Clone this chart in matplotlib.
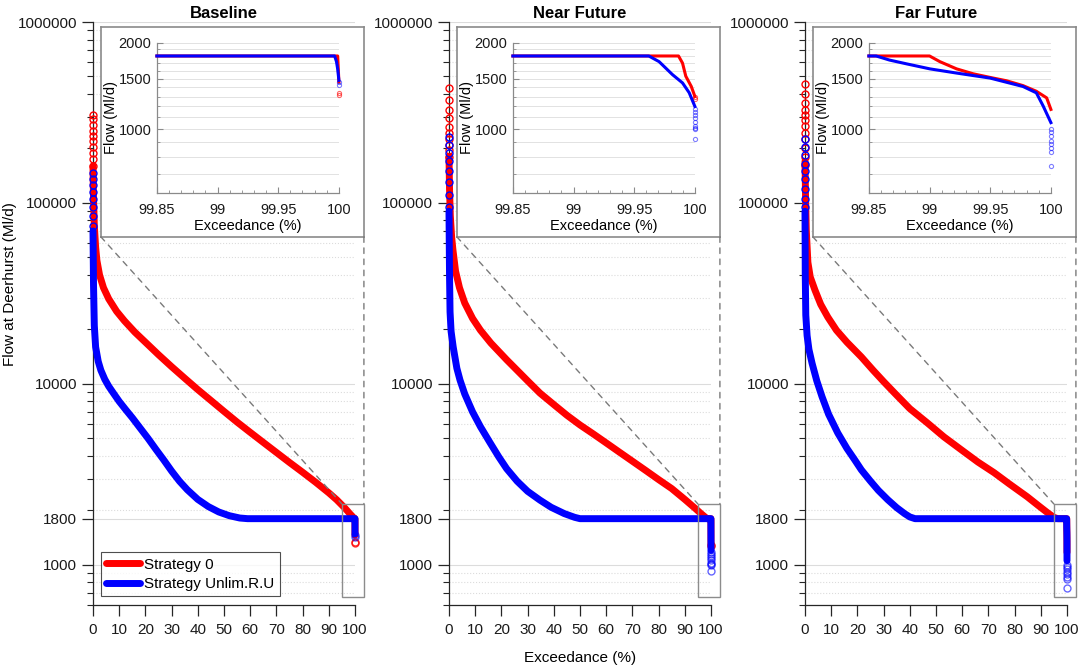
import matplotlib
matplotlib.use('Agg')
import matplotlib.pyplot as plt
import numpy as np
from matplotlib.ticker import LogLocator, NullFormatter, MultipleLocator, FixedLocator
from matplotlib.patches import Rectangle, ConnectionPatch

plt.rcParams['font.family'] = ['Liberation Sans', 'DejaVu Sans']

titles = ['Baseline', 'Near Future', 'Far Future']
labels = ['Strategy 0', 'Strategy Unlim.R.U']

# ---- Baseline ----
base_red_exc = [0, 0.2, 0.5, 1.0, 1.5, 2.5, 4, 6, 9, 12, 16, 20, 25, 30, 35, 40, 45, 50,
                55, 60, 65, 70, 75, 80, 85, 90, 93, 96, 98, 99.5]
base_red = [160000, 105000, 75000, 57000, 48000, 40000, 34000, 29500, 25200, 22300, 19300,
            17000, 14500, 12450, 10750, 9300, 8100, 7050, 6150, 5400, 4750, 4180, 3680,
            3250, 2860, 2500, 2290, 2070, 1920, 1820]
base_blue_exc = [0, 0.2, 0.5, 1, 2, 3, 4.5, 6, 8, 10, 12.5, 15, 18, 21, 24, 27, 30, 33, 36,
                 40, 44, 48, 52, 56, 59, 99.8]
base_blue = [70000, 35000, 21000, 16000, 13300, 11900, 10600, 9700, 8800, 8000, 7200, 6500,
             5700, 5000, 4350, 3800, 3300, 2900, 2600, 2300, 2100, 1960, 1870, 1815, 1800, 1800]
base_tail_red_exc = [99.85, 99.999, 100.0]
base_tail_red = [1800, 1800, 1460]
base_tail_blue_exc = [99.85, 99.9965, 99.998, 99.999, 100.0]
base_tail_blue = [1800, 1800, 1720, 1620, 1480]
base_top_red = [306000, 290000, 270000, 250000, 235000, 220000, 205000, 190000, 175000, 160000]
base_top_blue = [146000, 135000, 125000, 115000, 105000, 95000, 85000, 75000]
base_low_red = [1340, 1320]
base_low_blue = [1455, 1430]

# ---- Near Future ----
near_red_exc = [0, 0.2, 0.5, 1, 1.5, 2.5, 4, 6, 9, 12, 16, 22, 25, 30, 34.7, 40, 45, 50, 55,
                60, 65, 70, 75, 80, 85, 90, 94, 96, 97.5, 98.5, 99.8]
near_red = [180000, 120000, 85000, 65000, 55000, 42000, 34000, 28000, 23000, 19800, 16800,
            13600, 12300, 10400, 8900, 7690, 6710, 5930, 5300, 4720, 4200, 3740, 3330, 2960,
            2640, 2300, 2050, 1930, 1850, 1800, 1800]
near_blue_exc = [0, 0.2, 0.4, 0.8, 1.6, 3, 4.2, 6, 9, 12, 15.6, 19, 22, 26, 30, 34.7, 39, 44,
                 48, 50, 99.8]
near_blue = [90000, 40000, 25000, 19500, 16000, 12200, 10500, 8800, 7000, 5800, 4750, 3950,
             3400, 2900, 2550, 2280, 2080, 1920, 1830, 1800, 1800]
near_tail_red_exc = [99.85, 99.9865, 99.9898, 99.9925, 99.997, 100.0]
near_tail_red = [1800, 1800, 1700, 1530, 1410, 1300]
near_tail_blue_exc = [99.85, 99.962, 99.9705, 99.9815, 99.9898, 99.9953, 100.0]
near_tail_blue = [1800, 1800, 1720, 1550, 1450, 1340, 1200]
near_top_red = [432000, 371000, 327000, 295000, 263000, 244000, 225000, 210000, 195000, 180000]
near_top_blue = [232000, 210000, 190000, 170000, 150000, 130000, 110000, 95000]
near_low_red = [1290, 1270]
near_low_blue = [1180, 1150, 1120, 1090, 1060, 1030, 1010, 1000, 925]

# ---- Far Future ----
far_red_exc = [0, 0.2, 0.5, 1.1, 2, 3.8, 6, 8.7, 12, 16, 21.5, 26, 30, 34.2, 40, 46.8, 53,
               59.7, 66, 72.2, 78, 84.8, 89, 92.4, 95, 96.5, 99.8]
far_red = [170000, 110000, 70000, 47000, 39000, 33000, 27500, 23400, 19800, 17000, 14100,
           11900, 10300, 8900, 7300, 6070, 5100, 4320, 3700, 3230, 2800, 2380, 2130, 1950,
           1830, 1800, 1800]
far_blue_exc = [0, 0.1, 0.3, 0.8, 1.5, 2.7, 4.5, 6.5, 9, 12.5, 16, 19, 21.5, 25, 28, 31.6,
                35, 38, 40, 42, 99.8]
far_blue = [90000, 40000, 24000, 18500, 15500, 13000, 10400, 8500, 6800, 5360, 4400, 3800,
            3350, 2900, 2580, 2290, 2070, 1920, 1840, 1800, 1800]
far_tail_red_exc = [99.85, 99.90, 99.9085, 99.9223, 99.936, 99.95, 99.9635, 99.977, 99.988,
                    99.9965, 100.0]
far_tail_red = [1800, 1800, 1720, 1623, 1560, 1515, 1475, 1419, 1356, 1286, 1172]
far_tail_blue_exc = [99.85, 99.856, 99.867, 99.881, 99.9003, 99.922, 99.95, 99.977, 99.988,
                     99.9937, 100.0]
far_tail_blue = [1800, 1800, 1742, 1690, 1623, 1570, 1507, 1409, 1339, 1203, 1054]
far_top_red = [454000, 400000, 357000, 327000, 306000, 287000, 265000, 245000, 225000,
               200000, 180000, 162000]
far_top_blue = [225000, 205000, 185000, 165000, 150000, 135000, 120000, 105000, 95000]
far_low_red = []
far_low_blue = [1000, 975, 946, 910, 888, 860, 833, 745]

scenarios = [
    (base_red_exc, base_red, base_blue_exc, base_blue, base_tail_red_exc, base_tail_red,
     base_tail_blue_exc, base_tail_blue, base_top_red, base_top_blue, base_low_red, base_low_blue),
    (near_red_exc, near_red, near_blue_exc, near_blue, near_tail_red_exc, near_tail_red,
     near_tail_blue_exc, near_tail_blue, near_top_red, near_top_blue, near_low_red, near_low_blue),
    (far_red_exc, far_red, far_blue_exc, far_blue, far_tail_red_exc, far_tail_red,
     far_tail_blue_exc, far_tail_blue, far_top_red, far_top_blue, far_low_red, far_low_blue),
]

main_yticks = [1000, 1800, 10000, 100000, 1000000]
inset_yticks = [1000, 1500, 2000]
inset_xticks = [99.85, 99.9, 99.95, 100]
inset_xticklabels = ['99.85', '99', '99.95', '100']

# zoom box and inset frame, in main data coords
zoom_box = (95, 103.4, 665, 2170)
frame_box = (3, 103.4, 65000, 940000)

RED = (1, 0, 0)
BLUE = (0, 0, 1)
AXC = '#262626'
W, H = 1084, 669
fig = plt.figure(figsize=(W / 100, H / 100), dpi=100)

lefts_px = [93, 449, 805]
ax_w_px, ax_bot_px, ax_h_px = 262, 64, 583


def to_fig(ax, x, y):
    p = ax.transData.transform((x, y))
    return fig.transFigure.inverted().transform(p)


handles = []
for i, (rx, ry, bx, by, trx, trv, tbx, tbv, topr, topb, lowr, lowb) in enumerate(scenarios):
    ax = fig.add_axes([lefts_px[i] / W, ax_bot_px / H, ax_w_px / W, ax_h_px / H])
    ax.set_yscale('log')
    ax.set_xlim(0, 100)
    ax.set_ylim(600, 1000000)

    l1, = ax.plot(list(rx) + list(trx), list(ry) + list(trv), color=RED, lw=5,
                  solid_capstyle='round', solid_joinstyle='round', clip_on=False, zorder=3)
    l2, = ax.plot(list(bx) + list(tbx), list(by) + list(tbv), color=BLUE, lw=5,
                  solid_capstyle='round', solid_joinstyle='round', clip_on=False, zorder=4)
    ax.plot(np.zeros(len(topr)), topr, 'o', mfc='none', mec=RED, ms=5, mew=1,
            clip_on=False, zorder=3)
    ax.plot(np.zeros(len(topb)), topb, 'o', mfc='none', mec=BLUE, ms=5, mew=1,
            clip_on=False, zorder=4)
    if len(lowr):
        ax.plot(np.full(len(lowr), 100.0), lowr, 'o', mfc='none', mec=RED, ms=5, mew=1,
                alpha=0.8, clip_on=False, zorder=3)
    ax.plot(np.full(len(lowb), 100.0), lowb, 'o', mfc='none', mec=BLUE, ms=5, mew=1,
            alpha=0.6, clip_on=False, zorder=4)
    if i == 0:
        handles = [l1, l2]

    ax.set_yticks(main_yticks, labels=[str(t) for t in main_yticks])
    ax.yaxis.set_minor_locator(LogLocator(base=10, subs=np.arange(2, 10), numticks=50))
    ax.yaxis.set_minor_formatter(NullFormatter())
    ax.set_xticks(np.arange(0, 101, 10))
    ax.grid(True, which='major', axis='y', color='#dcdcdc', lw=0.8, ls='-')
    ax.grid(True, which='minor', axis='y', color='#dcdcdc', lw=0.8, ls=':')
    ax.set_axisbelow(True)
    for s in ['top', 'right']:
        ax.spines[s].set_visible(False)
    for s in ['left', 'bottom']:
        ax.spines[s].set_color(AXC)
        ax.spines[s].set_linewidth(0.9)
    ax.tick_params(axis='both', which='major', direction='out', length=8, width=0.9,
                   colors=AXC, labelsize=11, labelcolor='#1a1a1a')
    ax.tick_params(axis='y', which='minor', direction='out', length=4, width=0.8, colors=AXC)
    ax.tick_params(axis='x', which='major', pad=5)
    ax.set_title(titles[i], fontsize=12, fontweight='bold', pad=3)
    if i == 0:
        ax.set_ylabel('Flow at Deerhurst (Ml/d)', fontsize=11)
        ax.yaxis.set_label_coords(-0.29, 0.55)
        ax.legend(handles, labels, loc='lower left', bbox_to_anchor=(0.03, 0.015),
                  fontsize=11, frameon=True, fancybox=False, edgecolor='#222222',
                  handlelength=2.2, borderpad=0.35, labelspacing=0.35, handletextpad=0.3,
                  borderaxespad=0)
        ax.get_legend().get_frame().set_linewidth(0.8)
    if i == 1:
        ax.set_xlabel('Exceedance (%)', fontsize=11, labelpad=10)

    # zoom box
    zx0, zx1, zy0, zy1 = zoom_box
    ax.add_patch(Rectangle((zx0, zy0), zx1 - zx0, zy1 - zy0, fill=False, ec='#8c8c8c',
                           lw=1.0, clip_on=False, zorder=5))

    # inset frame
    fx0, fx1, fy0, fy1 = frame_box
    p0 = to_fig(ax, fx0, fy0)
    p1 = to_fig(ax, fx1, fy1)
    frame = fig.add_axes([p0[0], p0[1], p1[0] - p0[0], p1[1] - p0[1]])
    frame.set_xticks([])
    frame.set_yticks([])
    frame.set_facecolor('white')
    for s in frame.spines.values():
        s.set_color('#8a8a8a')
        s.set_linewidth(1.2)

    ins = frame.inset_axes([56 / 263, 44 / 210, 182 / 263, 150 / 210])
    ins.set_yscale('log')
    ins.set_xlim(99.85, 100)
    ins.set_ylim(600, 2000)
    ins.plot(trx, trv, color=RED, lw=2.2, clip_on=False, zorder=3)
    ins.plot(tbx, tbv, color=BLUE, lw=2.2, clip_on=False, zorder=4)
    if len(lowr):
        ins.plot(np.full(len(lowr), 100.0), lowr, 'o', mfc='none', mec=RED, ms=3, mew=0.8,
                 alpha=0.6, clip_on=False, zorder=3)
    ins.plot(np.full(len(lowb), 100.0), lowb, 'o', mfc='none', mec=BLUE, ms=3, mew=0.8,
             alpha=0.5, clip_on=False, zorder=4)
    ins.set_yticks(inset_yticks, labels=[str(t) for t in inset_yticks])
    ins.yaxis.set_minor_locator(FixedLocator([v for v in range(700, 2000, 100)
                                              if v not in inset_yticks]))
    ins.yaxis.set_minor_formatter(NullFormatter())
    ins.set_xticks(inset_xticks, labels=inset_xticklabels)
    ins.xaxis.set_minor_locator(MultipleLocator(0.01))
    ins.grid(True, which='both', axis='y', color='#e2e2e2', lw=0.7, ls='-')
    ins.set_axisbelow(True)
    for s in ['top', 'right']:
        ins.spines[s].set_visible(False)
    for s in ['left', 'bottom']:
        ins.spines[s].set_color('#8a8a8a')
        ins.spines[s].set_linewidth(0.9)
    ins.tick_params(axis='both', which='major', direction='in', length=4, width=0.8,
                    colors='#8a8a8a', labelsize=10.5, labelcolor='#1a1a1a', pad=4)
    ins.tick_params(axis='x', which='major', pad=7)
    ins.tick_params(axis='both', which='minor', direction='in', length=2, width=0.6,
                    colors='#8a8a8a')
    ins.set_xlabel('Exceedance (%)', fontsize=10.5, labelpad=2)
    ins.set_ylabel('Flow (Ml/d)', fontsize=10.5, labelpad=0)

    # dashed connectors from frame to zoom box
    for fa, zb in [((0, 0), (zx0, zy1)), ((1, 0), (zx1, zy1))]:
        con = ConnectionPatch(xyA=fa, coordsA=frame.transAxes, xyB=zb, coordsB=ax.transData,
                              color='#7a7a7a', lw=1.0, ls=(0, (4, 4)))
        fig.add_artist(con)

fig.savefig('out.png', dpi=100)
